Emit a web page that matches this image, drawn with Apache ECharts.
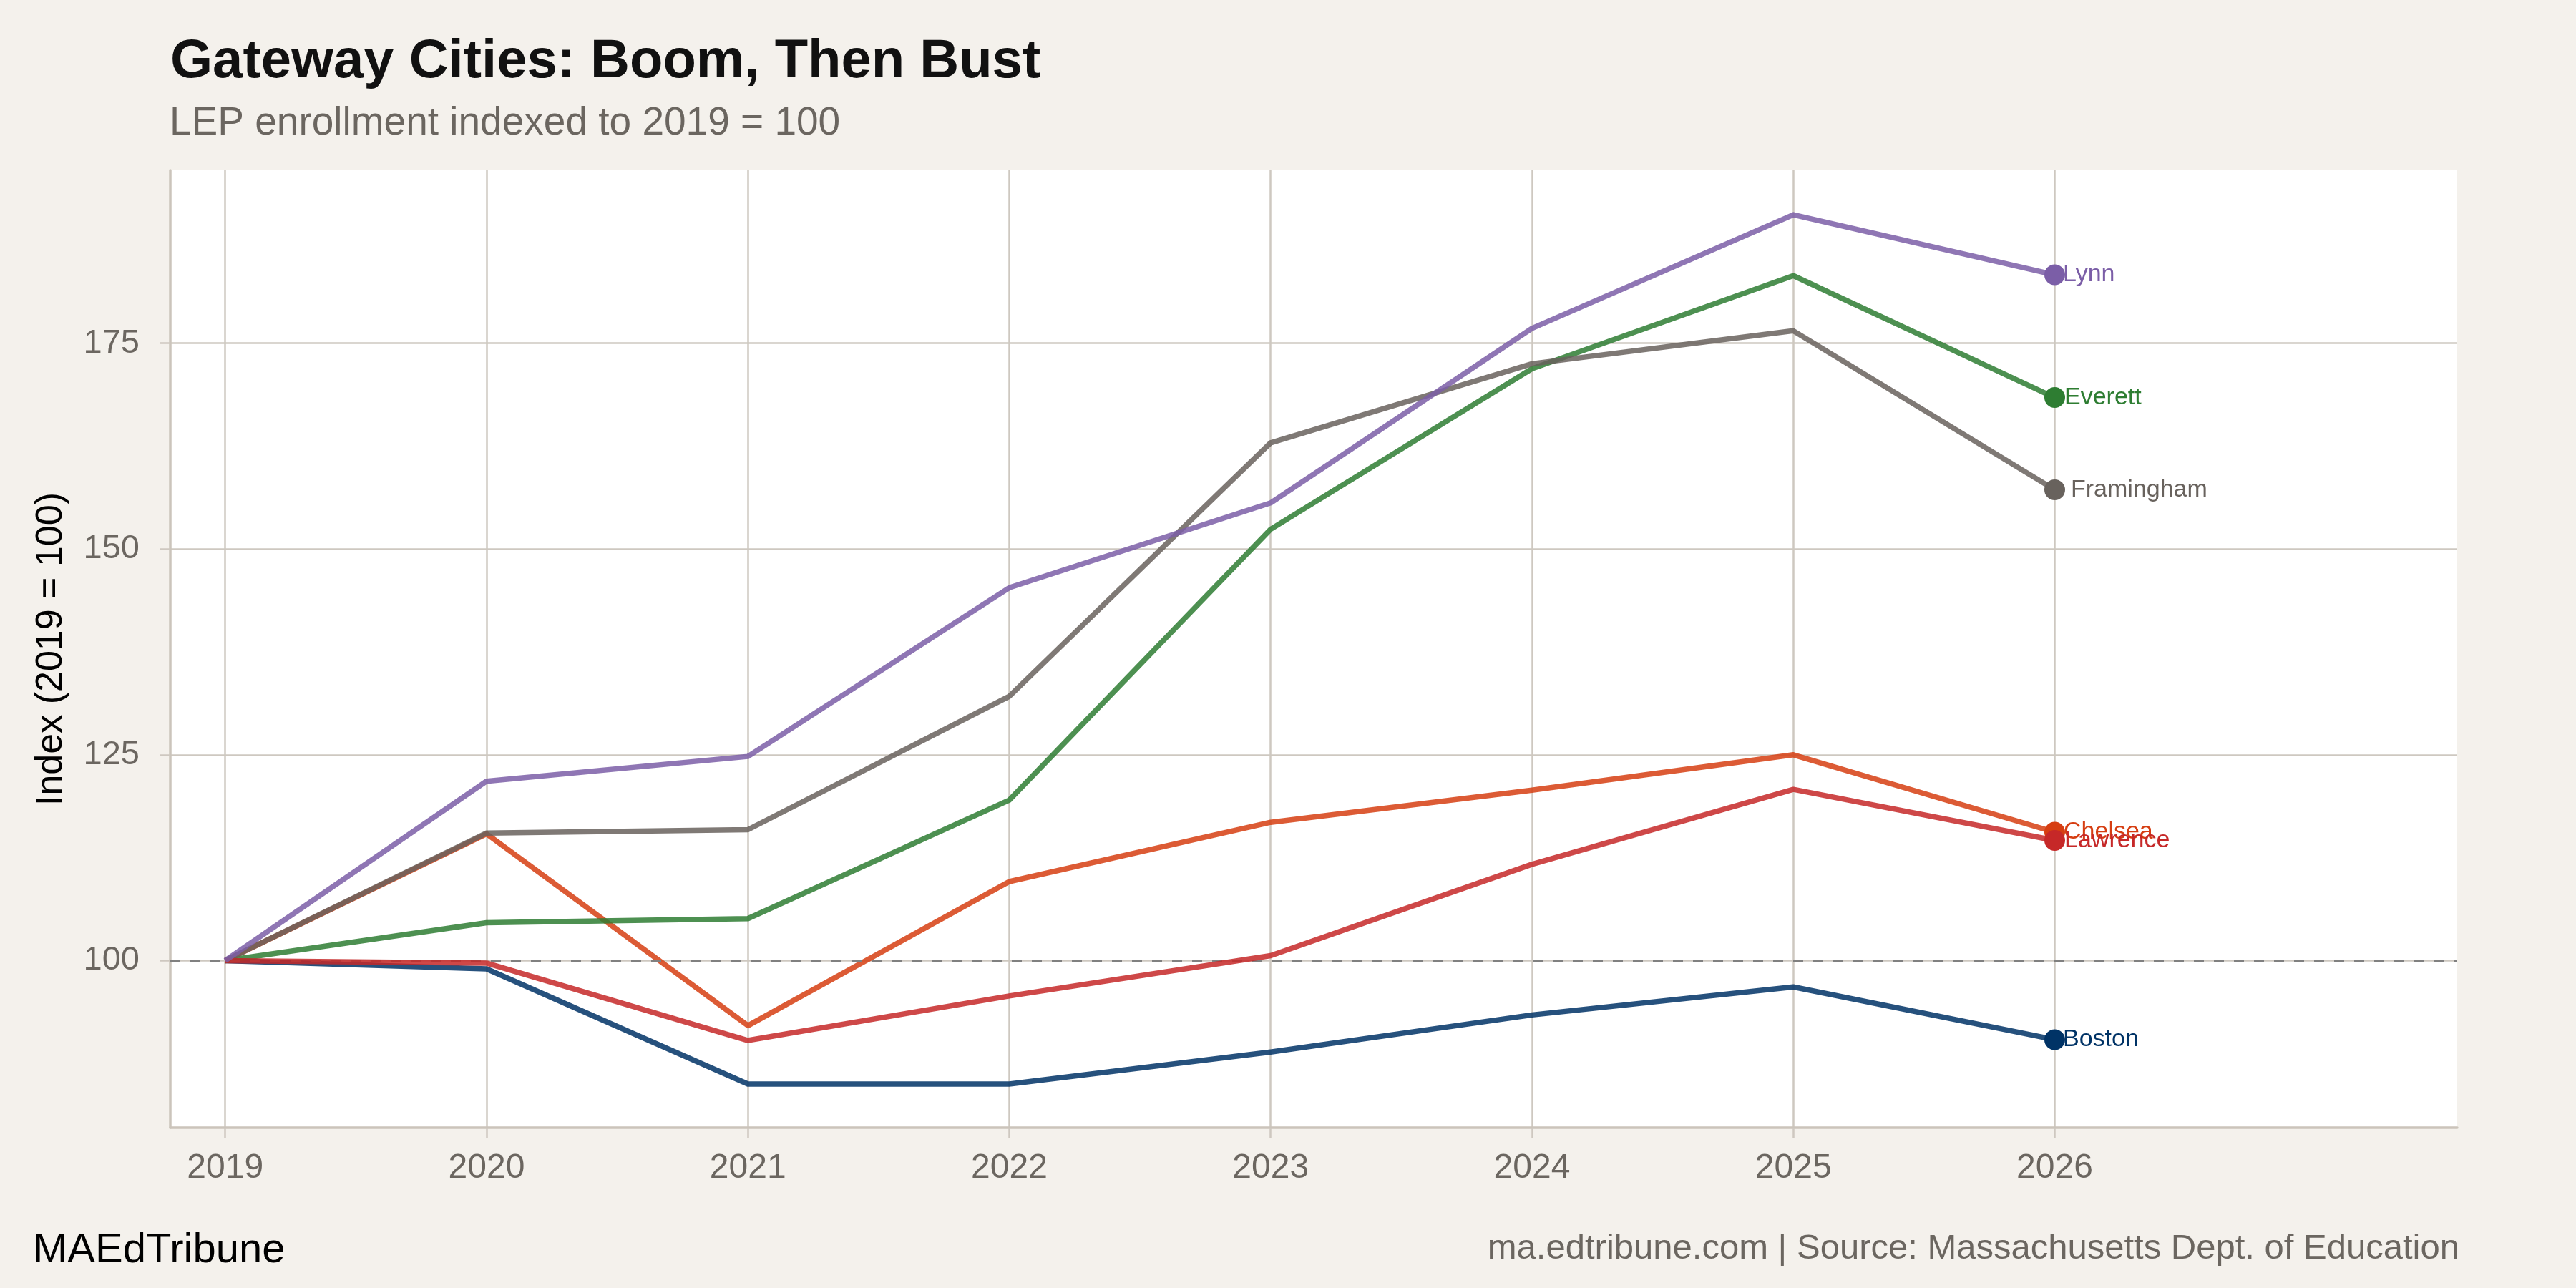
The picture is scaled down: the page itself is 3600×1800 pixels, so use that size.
<!DOCTYPE html>
<html>
<head>
<meta charset="utf-8">
<script src="https://cdn.jsdelivr.net/npm/echarts@6/dist/echarts.min.js"></script>
<style>
html,body{margin:0;padding:0;background:#F4F1EC;}
#c{width:3600px;height:1800px;}
</style>
</head>
<body>
<div id="c"></div>
<script>
// ---- data ----
const years = [2019, 2020, 2021, 2022, 2023, 2024, 2025, 2026];
const xTickLabels = ['2019', '2020', '2021', '2022', '2023', '2024', '2025', '2026'];
const yTicks = [100, 125, 150, 175];
const cities = ['Boston', 'Chelsea', 'Everett', 'Framingham', 'Lawrence', 'Lynn'];
const boston     = [100, 99.0, 85.0, 85.0, 88.9, 93.4, 96.8, 90.4];
const chelsea    = [100, 115.4, 92.1, 109.6, 116.8, 120.7, 125.0, 115.6];
const everett    = [100, 104.6, 105.1, 119.5, 152.4, 171.9, 183.2, 168.4];
const framingham = [100, 115.5, 115.9, 132.1, 162.9, 172.5, 176.5, 157.2];
const lawrence   = [100, 99.7, 90.3, 95.7, 100.6, 111.7, 120.8, 114.6];
const lynn       = [100, 121.8, 124.8, 145.3, 155.6, 176.8, 190.6, 183.3];
const baseline = 100;

// ---- styles ----
const FONT = '"Liberation Sans", Arial, Helvetica, sans-serif';
const colors = {
  Boston: '#003366', Chelsea: '#D63E12', Everett: '#2E7D32',
  Framingham: '#68625D', Lawrence: '#C62828', Lynn: '#7B5EA7'
};
const labelDist = { Boston: -3, Chelsea: -2, Everett: -1, Framingham: 8, Lawrence: -1, Lynn: -3 };
const valuesByCity = { Boston: boston, Chelsea: chelsea, Everett: everett, Framingham: framingham, Lawrence: lawrence, Lynn: lynn };

function makeSeries(name, idx) {
  const vals = valuesByCity[name];
  const color = colors[name];
  const last = vals.length - 1;
  const s = {
    type: 'line',
    name: name,
    color: color,
    z: 2 + idx,
    clip: false,
    showAllSymbol: true,
    animation: false,
    emphasis: { disabled: true },
    lineStyle: { color: color, width: 7.5, opacity: 0.85, join: 'round' },
    itemStyle: { color: color, opacity: 1 },
    data: vals.map(function (v, i) {
      if (i === last) {
        return {
          value: [years[i], v],
          symbol: 'circle',
          symbolSize: 29,
          label: {
            show: true, position: 'right', distance: labelDist[name],
            formatter: name, color: color, fontSize: 34, fontFamily: FONT
          }
        };
      }
      return { value: [years[i], v], symbol: 'none' };
    })
  };
  if (idx === 0) {
    s.markLine = {
      silent: true, symbol: ['none', 'none'], animation: false,
      label: { show: false },
      lineStyle: { color: '#808080', type: [14, 14], width: 3.5, opacity: 1 },
      data: [{ yAxis: baseline }]
    };
  }
  return s;
}

const gridColor = '#CEC8C0';
const axisColor = '#CBC4BB';
const tickTextColor = '#6B6660';

const option = {
  backgroundColor: '#F4F1EC',
  animation: false,
  grid: {
    left: 238, right: 166, top: 238, bottom: 224,
    show: true, backgroundColor: '#FFFFFF', borderWidth: 0
  },
  xAxis: {
    type: 'value',
    min: 2018.79, max: 2027.54,
    axisLine: { show: true, onZero: false, lineStyle: { color: axisColor, width: 3.5 } },
    axisTick: { show: true, length: 14, customValues: years, lineStyle: { color: gridColor, width: 2.5 } },
    axisLabel: {
      show: true, customValues: years, margin: 33,
      color: tickTextColor, fontSize: 48, fontFamily: FONT,
      formatter: function (v) { const i = years.indexOf(Math.round(v)); return i >= 0 ? xTickLabels[i] : ''; }
    },
    splitLine: { show: true, lineStyle: { color: gridColor, width: 2.5 } },
    minorSplitLine: { show: false }
  },
  yAxis: {
    type: 'value',
    min: 79.7, max: 196.0,
    name: 'Index (2019 = 100)',
    nameLocation: 'middle',
    nameRotate: 90,
    nameGap: 140,
    nameTextStyle: { color: '#000000', fontSize: 52, fontFamily: FONT },
    axisLine: { show: true, onZero: false, lineStyle: { color: axisColor, width: 3.5 } },
    axisTick: { show: true, length: 14, customValues: yTicks, lineStyle: { color: gridColor, width: 2.5 } },
    axisLabel: {
      show: true, customValues: yTicks, margin: 43,
      color: tickTextColor, fontSize: 47, fontFamily: FONT,
      formatter: function (v) { return String(Math.round(v)); }
    },
    splitLine: { show: true, lineStyle: { color: gridColor, width: 2.5 } }
  },
  graphic: [
    { type: 'text', x: 238, y: 87, silent: true,
      style: { text: 'Gateway Cities: Boom, Then Bust', fontSize: 76, fontWeight: 'bold', fontFamily: FONT,
               fill: '#111111', align: 'left', verticalAlign: 'middle' } },
    { type: 'text', x: 237, y: 173, silent: true,
      style: { text: 'LEP enrollment indexed to 2019 = 100', fontSize: 55, fontFamily: FONT,
               fill: '#6B6660', align: 'left', verticalAlign: 'middle' } },
    { type: 'text', x: 46, y: 1748, silent: true,
      style: { text: 'MAEdTribune', fontSize: 58, fontFamily: FONT,
               fill: '#000000', align: 'left', verticalAlign: 'middle' } },
    { type: 'text', x: 3437, y: 1745, silent: true,
      style: { text: 'ma.edtribune.com | Source: Massachusetts Dept. of Education', fontSize: 49, fontFamily: FONT,
               fill: '#6B6660', align: 'right', verticalAlign: 'middle' } }
  ],
  series: cities.map(makeSeries)
};

const chart = echarts.init(document.getElementById('c'), null, { renderer: 'canvas', width: 3600, height: 1800 });
chart.setOption(option);
</script>
</body>
</html>
